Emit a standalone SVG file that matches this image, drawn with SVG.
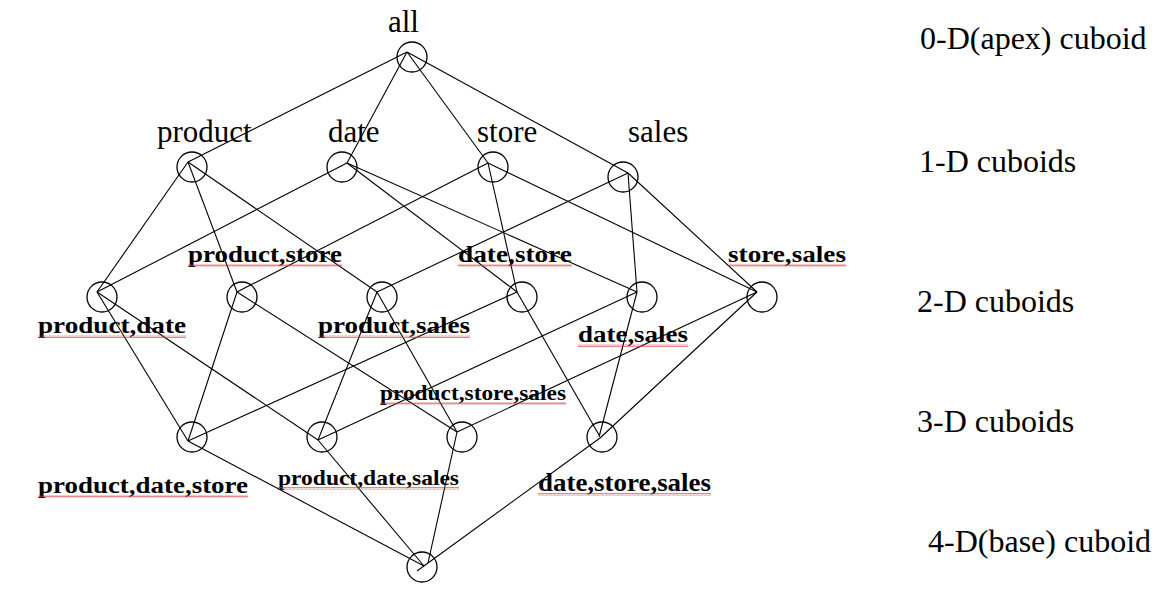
<svg xmlns="http://www.w3.org/2000/svg" width="1166" height="591" viewBox="0 0 1166 591">
<defs>
<style>
.c{fill:none;stroke:#000;stroke-width:1.3}
.e{stroke:#000;stroke-width:1.1;fill:none}
.t{font-family:"Liberation Serif","Times New Roman",serif;font-size:31px;fill:#000}
.lv{font-family:"Liberation Serif","Times New Roman",serif;font-size:32px;fill:#000}
.b{font-family:"Liberation Serif","Times New Roman",serif;font-weight:bold;font-size:24px;fill:#000}
.s{font-size:21px}
.w{fill:url(#squig)}
</style>
<pattern id="squig" patternUnits="userSpaceOnUse" width="4" height="3">
<polyline points="0,2.5 1,0.5 2,2.5 3,0.5 4,2.5" fill="none" stroke="#e03030" stroke-width="0.6"/>
</pattern>
</defs>
<rect width="1166" height="591" fill="#fff"/>
<g id="connectors">
<line class="e" x1="407" y1="52" x2="188" y2="162"/>
<line class="e" x1="407" y1="52" x2="347" y2="163"/>
<line class="e" x1="407" y1="52" x2="488" y2="163"/>
<line class="e" x1="407" y1="52" x2="628" y2="173"/>
<line class="e" x1="188" y1="162" x2="97" y2="292"/>
<line class="e" x1="188" y1="162" x2="237" y2="292"/>
<line class="e" x1="188" y1="162" x2="377" y2="292"/>
<line class="e" x1="347" y1="163" x2="97" y2="292"/>
<line class="e" x1="347" y1="163" x2="517" y2="292"/>
<line class="e" x1="347" y1="163" x2="637" y2="292"/>
<line class="e" x1="488" y1="163" x2="237" y2="292"/>
<line class="e" x1="488" y1="163" x2="517" y2="292"/>
<line class="e" x1="488" y1="163" x2="757" y2="292"/>
<line class="e" x1="628" y1="173" x2="377" y2="292"/>
<line class="e" x1="628" y1="173" x2="637" y2="292"/>
<line class="e" x1="628" y1="173" x2="757" y2="292"/>
<line class="e" x1="97" y1="292" x2="188" y2="441"/>
<line class="e" x1="97" y1="292" x2="318" y2="440"/>
<line class="e" x1="237" y1="292" x2="188" y2="441"/>
<line class="e" x1="237" y1="292" x2="457" y2="432"/>
<line class="e" x1="377" y1="292" x2="318" y2="440"/>
<line class="e" x1="377" y1="292" x2="457" y2="432"/>
<line class="e" x1="517" y1="292" x2="188" y2="441"/>
<line class="e" x1="517" y1="292" x2="599" y2="435"/>
<line class="e" x1="637" y1="292" x2="318" y2="440"/>
<line class="e" x1="637" y1="292" x2="599" y2="437"/>
<line class="e" x1="757" y1="292" x2="457" y2="432"/>
<line class="e" x1="757" y1="292" x2="600" y2="438"/>
<line class="e" x1="188" y1="441" x2="424" y2="566"/>
<line class="e" x1="318" y1="440" x2="424" y2="566"/>
<line class="e" x1="457" y1="432" x2="428" y2="563"/>
<line class="e" x1="600" y1="438" x2="417" y2="571"/>
</g>
<g id="node-all"><circle class="c" cx="412" cy="57" r="15"/><text class="t" x="388" y="32">all</text></g>
<g id="node-product"><circle class="c" cx="192" cy="167" r="15"/><text class="t" x="157" y="142">product</text></g>
<g id="node-date"><circle class="c" cx="342" cy="167" r="15"/><text class="t" x="328" y="142">date</text></g>
<g id="node-store"><circle class="c" cx="493" cy="167" r="15"/><text class="t" x="477" y="142">store</text></g>
<g id="node-sales"><circle class="c" cx="623" cy="177" r="15"/><text class="t" x="628" y="142">sales</text></g>
<g id="node-product-date"><circle class="c" cx="102" cy="297" r="15"/><text class="b" x="38" y="333" textLength="148" lengthAdjust="spacingAndGlyphs">product,date</text><rect class="w" x="38" y="335" width="148" height="3"/></g>
<g id="node-product-store"><circle class="c" cx="242" cy="297" r="15"/><text class="b" x="188" y="262" textLength="154" lengthAdjust="spacingAndGlyphs">product,store</text><rect class="w" x="188" y="264" width="154" height="3"/></g>
<g id="node-product-sales"><circle class="c" cx="382" cy="297" r="15"/><text class="b" x="318" y="333" textLength="152" lengthAdjust="spacingAndGlyphs">product,sales</text><rect class="w" x="318" y="335" width="152" height="3"/></g>
<g id="node-date-store"><circle class="c" cx="522" cy="297" r="15"/><text class="b" x="458" y="262" textLength="114" lengthAdjust="spacingAndGlyphs">date,store</text><rect class="w" x="458" y="264" width="114" height="3"/></g>
<g id="node-date-sales"><circle class="c" cx="642" cy="297" r="15"/><text class="b" x="578" y="342" textLength="110" lengthAdjust="spacingAndGlyphs">date,sales</text><rect class="w" x="578" y="344" width="110" height="3"/></g>
<g id="node-store-sales"><circle class="c" cx="762" cy="297" r="15"/><text class="b" x="728" y="262" textLength="118" lengthAdjust="spacingAndGlyphs">store,sales</text><rect class="w" x="728" y="264" width="118" height="3"/></g>
<g id="node-product-date-store"><circle class="c" cx="192" cy="437" r="15"/><text class="b" x="38" y="493" textLength="210" lengthAdjust="spacingAndGlyphs">product,date,store</text><rect class="w" x="38" y="495" width="210" height="3"/></g>
<g id="node-product-date-sales"><circle class="c" cx="322" cy="437" r="15"/><text class="b s" x="278" y="485" textLength="181" lengthAdjust="spacingAndGlyphs">product,date,sales</text><rect class="w" x="278" y="487" width="181" height="3"/></g>
<g id="node-product-store-sales"><circle class="c" cx="462" cy="437" r="15"/><text class="b s" x="380" y="400" textLength="186" lengthAdjust="spacingAndGlyphs">product,store,sales</text><rect class="w" x="380" y="402" width="186" height="3"/></g>
<g id="node-date-store-sales"><circle class="c" cx="602" cy="437" r="15"/><text class="b" x="538" y="491" textLength="173" lengthAdjust="spacingAndGlyphs" style="font-size:25px">date,store,sales</text><rect class="w" x="538" y="493" width="173" height="3"/></g>
<g id="node-base"><circle class="c" cx="422" cy="567" r="15"/></g>
<g id="levels">
<text class="lv" x="920" y="49">0-D(apex) cuboid</text>
<text class="lv" x="919" y="172">1-D cuboids</text>
<text class="lv" x="917" y="312">2-D cuboids</text>
<text class="lv" x="917" y="432">3-D cuboids</text>
<text class="lv" x="928" y="552">4-D(base) cuboid</text>
</g>
</svg>
